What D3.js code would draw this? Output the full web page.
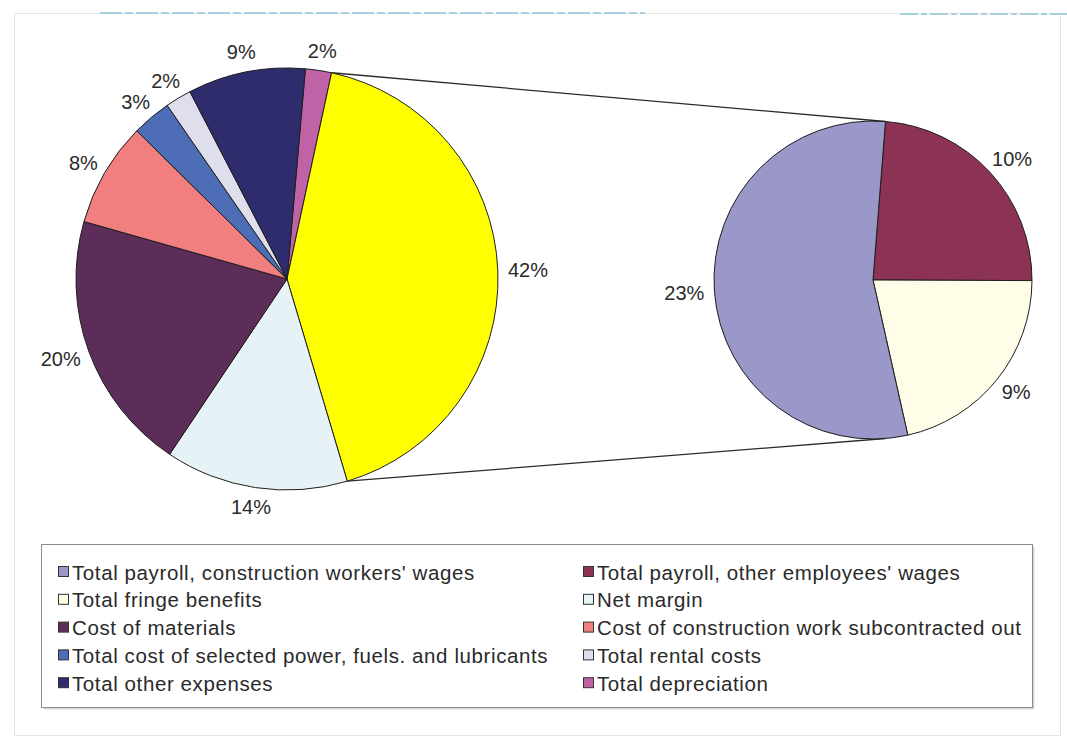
<!DOCTYPE html>
<html>
<head>
<meta charset="utf-8">
<script src="https://cdn.jsdelivr.net/npm/d3@7"></script>
<style>
  html, body { margin: 0; padding: 0; background: #fff; }
  svg { display: block; }
  text { font-family: "Liberation Sans", Arial, sans-serif; }
</style>
</head>
<body>
<svg id="chart" width="1067" height="738"></svg>
<script>
// Construction cost breakdown: main pie, with the payroll & fringe slice split out in a second pie.
const mainCategories = [
  "Total depreciation",
  "Payroll and fringe benefits",
  "Net margin",
  "Cost of materials",
  "Cost of construction work subcontracted out",
  "Total cost of selected power, fuels. and lubricants",
  "Total rental costs",
  "Total other expenses"
];
const mainValues = [2, 42, 14, 20, 8, 3, 2, 9];

const detailCategories = [
  "Total payroll, other employees' wages",
  "Total fringe benefits",
  "Total payroll, construction workers' wages"
];
const detailValues = [10, 9, 23];

const legendLeft = [
  "Total payroll, construction workers' wages",
  "Total fringe benefits",
  "Cost of materials",
  "Total cost of selected power, fuels. and lubricants",
  "Total other expenses"
];
const legendRight = [
  "Total payroll, other employees' wages",
  "Net margin",
  "Cost of construction work subcontracted out",
  "Total rental costs",
  "Total depreciation"
];

const colors = {
  "Total depreciation": "#c062a6",
  "Payroll and fringe benefits": "#ffff00",
  "Net margin": "#e6f2f6",
  "Cost of materials": "#5c2d58",
  "Cost of construction work subcontracted out": "#f27f7f",
  "Total cost of selected power, fuels. and lubricants": "#4d6db6",
  "Total rental costs": "#dedeec",
  "Total other expenses": "#2e2c6c",
  "Total payroll, other employees' wages": "#8c3254",
  "Total fringe benefits": "#fffce8",
  "Total payroll, construction workers' wages": "#9a97c9"
};

const svg = d3.select("#chart");
const deg = Math.PI / 180;

// outer frame and the faint rule along the top
svg.append("rect")
  .attr("x", 14.5).attr("y", 13.5).attr("width", 1046).attr("height", 722)
  .attr("fill", "none").attr("stroke", "#e4e4e4").attr("stroke-width", 1);
svg.append("line")
  .attr("x1", 100).attr("x2", 645).attr("y1", 13).attr("y2", 13)
  .attr("stroke", "#a8d0e0").attr("stroke-width", 2).attr("stroke-dasharray", "22 3 8 3");
svg.append("line")
  .attr("x1", 900).attr("x2", 1067).attr("y1", 14).attr("y2", 14)
  .attr("stroke", "#a8d0e0").attr("stroke-width", 2).attr("stroke-dasharray", "18 3 6 3");

// ---- main pie ----
const main = { cx: 287, cy: 279, r: 211, start: 5 * deg };
const mainPie = d3.pie().sort(null).value(d => d.v)
  .startAngle(main.start).endAngle(main.start + 2 * Math.PI);
const mainArcs = mainPie(mainCategories.map((c, i) => ({ c, v: mainValues[i] })));
const arcMain = d3.arc().innerRadius(0).outerRadius(main.r);

// ---- detail pie ----
const detail = { cx: 873, cy: 280, r: 159, start: 4.5 * deg };
const detailPie = d3.pie().sort(null).value(d => d.v)
  .startAngle(detail.start).endAngle(detail.start + 2 * Math.PI);
const detailArcs = detailPie(detailCategories.map((c, i) => ({ c, v: detailValues[i] })));
const arcDetail = d3.arc().innerRadius(0).outerRadius(detail.r);

// connector lines from the split slice to the detail pie
const split = mainArcs[1];
const pt = (cx, cy, r, a) => [cx + r * Math.sin(a), cy - r * Math.cos(a)];
const topA = pt(main.cx, main.cy, main.r, split.startAngle);
const botA = pt(main.cx, main.cy, main.r, split.endAngle);
const topB = pt(detail.cx, detail.cy, detail.r, detail.start);
const botB = pt(detail.cx, detail.cy, detail.r, Math.PI - detail.start);
svg.append("g").attr("stroke", "#2a2a2a").attr("stroke-width", 1.3)
  .selectAll("line").data([[topA, topB], [botA, botB]]).join("line")
  .attr("x1", d => d[0][0]).attr("y1", d => d[0][1])
  .attr("x2", d => d[1][0]).attr("y2", d => d[1][1]);

function drawPie(arcs, arcGen, geo) {
  const g = svg.append("g").attr("transform", `translate(${geo.cx},${geo.cy})`);
  g.selectAll("path").data(arcs).join("path")
    .attr("d", arcGen)
    .attr("fill", d => colors[d.data.c])
    .attr("stroke", "#1e1e1e").attr("stroke-width", 1)
    .attr("stroke-linejoin", "round");

  // percentage labels placed just outside the rim
  const labels = g.selectAll("text").data(arcs).join("text")
    .attr("font-family", "'Liberation Sans Narrow', 'Liberation Sans', Arial, sans-serif")
    .attr("font-size", 20).attr("fill", "#2a2a2a")
    .attr("text-anchor", "middle").attr("dominant-baseline", "central")
    .text(d => d.data.v + "%");
  labels.each(function(d) {
    const a = (d.startAngle + d.endAngle) / 2;
    const s = Math.sin(a), c = -Math.cos(a);
    const b = this.getBBox();
    const rr = geo.r + 8;
    const x = rr * s + s * (b.width / 2 + 2);
    const y = rr * c + c * (b.height / 2 + 1);
    d3.select(this).attr("x", x).attr("y", y);
  });
}
drawPie(mainArcs, arcMain, main);
drawPie(detailArcs, arcDetail, detail);

// ---- legend ----
const legend = { x: 41.5, y: 544.5, w: 991, h: 163, rowY: 572, rowStep: 27.8 };
svg.append("rect")
  .attr("x", legend.x + 2).attr("y", legend.y + 2).attr("width", legend.w).attr("height", legend.h)
  .attr("fill", "#d8d8d8");
svg.append("rect")
  .attr("x", legend.x).attr("y", legend.y).attr("width", legend.w).attr("height", legend.h)
  .attr("fill", "#fff").attr("stroke", "#8a8a8a").attr("stroke-width", 1);

function legendColumn(items, markerX) {
  const g = svg.append("g");
  const rows = g.selectAll("g").data(items).join("g")
    .attr("transform", (d, i) => `translate(${markerX},${legend.rowY + i * legend.rowStep})`);
  rows.append("rect")
    .attr("x", 0.5).attr("y", -5.5).attr("width", 10).attr("height", 10)
    .attr("fill", d => colors[d]).attr("stroke", "#333").attr("stroke-width", 1);
  rows.append("text")
    .attr("x", 14).attr("y", 0).attr("dominant-baseline", "central")
    .attr("font-size", 20.5).attr("letter-spacing", 0.6).attr("fill", "#2a2a2a")
    .text(d => d);
}
legendColumn(legendLeft, 58);
legendColumn(legendRight, 583);
</script>
</body>
</html>
